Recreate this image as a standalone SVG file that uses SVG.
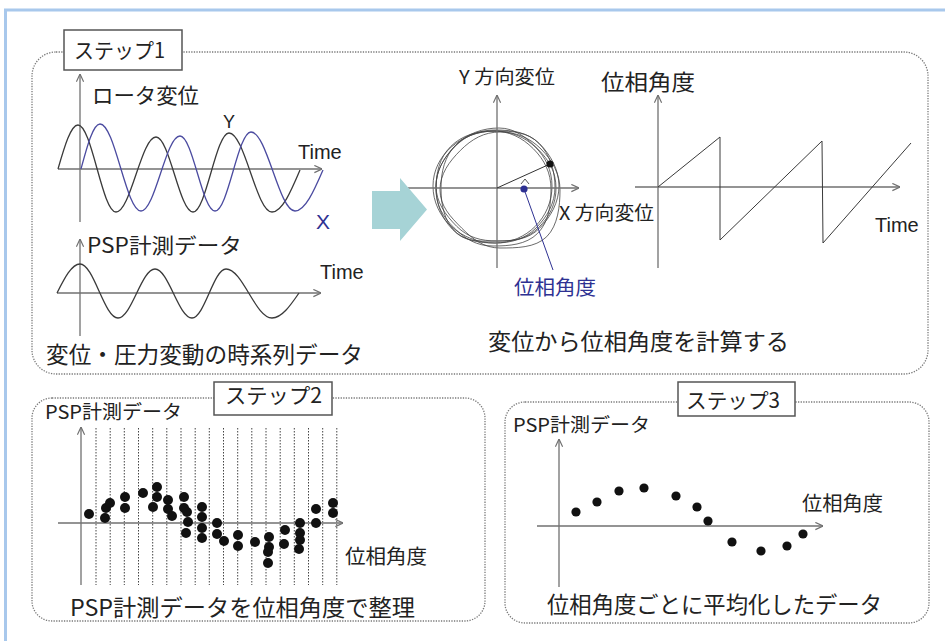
<svg xmlns="http://www.w3.org/2000/svg" width="945" height="641" viewBox="0 0 945 641">
<style>
text{font-family:"Noto Sans CJK JP","Noto Sans",sans-serif;fill:#222;}
.lat{font-family:"Liberation Sans",Arial,sans-serif;}
.blue{fill:#2e3192;}
.box{fill:none;stroke:#7a7a7a;stroke-width:1.3;stroke-dasharray:1.3 1.3;}
.lbl{fill:#fff;stroke:#555;stroke-width:1.5;}
.axa{fill:none;stroke:#707070;stroke-width:1.3;marker-end:url(#ah);}
.wk{fill:none;stroke:#3a3a3a;stroke-width:1.3;}
.wb{fill:none;stroke:#4b4ba0;stroke-width:1.3;}
.lp{fill:none;stroke:#444;stroke-width:0.8;}
.st{fill:none;stroke:#3a3a3a;stroke-width:1;}
.vd{fill:none;stroke:#444;stroke-width:1;stroke-dasharray:1.5 1.5;}
.d{fill:#111;}
</style>
<defs>
<marker id="ah" viewBox="0 0 10 10" refX="9.5" refY="5" markerWidth="9" markerHeight="9" markerUnits="userSpaceOnUse" orient="auto">
<path d="M1,1 L9.5,5 L1,9" fill="none" stroke="#707070" stroke-width="1.3"/>
</marker>
</defs>
<rect width="945" height="641" fill="#fff"/>
<rect id="frame" x="5.5" y="10" width="980" height="680" fill="none" stroke="#a8c8ec" stroke-width="3"/>

<g id="step1">
<rect class="box" x="32" y="52" width="896" height="322" rx="24"/>
<g id="step1-label">
<rect class="lbl" x="64" y="30" width="118" height="40"/>
<text x="74" y="57.5" font-size="21" textLength="91" lengthAdjust="spacingAndGlyphs">ステップ1</text>
</g>
<g id="rotor-displacement">
<line class="axa" x1="80" y1="222" x2="80" y2="74"/>
<line class="axa" x1="58" y1="169" x2="322" y2="169"/>
<path class="wk" d="M58,169 C64.5,146.5 70.8,125 78,125 C91.8,125 102.2,212 116,212 C130.6,212 141.4,137 156,137 C169.5,137 179.5,212 193,212 C206.1,212 215.9,133 229,133 C244.7,133 256.3,212 272,212 C282.1,212 290.9,191.5 300,170"/>
<path class="wb" d="M81,169 C87.2,146 93.1,124 100,124 C114.9,124 126.1,211 141,211 C155.2,211 165.8,136 180,136 C192.7,136 202.3,211 215,211 C228.1,211 237.9,132 251,132 C267,132 279,211 295,211 C305.1,211 313.9,191 323,170"/>
<text x="92" y="102.5" font-size="21" textLength="107" lengthAdjust="spacingAndGlyphs">ロータ変位</text>
<text class="lat" x="223" y="127.5" font-size="18">Y</text>
<text class="lat" x="298" y="159" font-size="20">Time</text>
<text class="lat blue" x="316" y="228.5" font-size="21">X</text>
</g>
<g id="psp-time">
<line class="axa" x1="80" y1="336" x2="80" y2="239"/>
<line class="axa" x1="57" y1="293" x2="321" y2="293"/>
<path class="wk" d="M57,293 C64.5,278.2 71.7,264 80,264 C93.8,264 104.2,318 118,318 C131.5,318 141.5,269 155,269 C168.5,269 178.5,318 192,318 C204.4,318 213.6,269 226,269 C242.7,269 255.3,318 272,318 C281.8,318 290.2,305.8 299,293"/>
<text x="87" y="252.5" font-size="21" textLength="155" lengthAdjust="spacingAndGlyphs">PSP計測データ</text>
<text class="lat" x="320" y="279" font-size="20">Time</text>
</g>
<text x="46" y="363" font-size="22.5" textLength="317" lengthAdjust="spacingAndGlyphs">変位・圧力変動の時系列データ</text>

<g id="orbit">
<path class="lp" d="M555,187 C555,203 547.3,216.7 536,228 S511,243 495,243 S463.9,240.7 452.6,229.4 S436,203 436,187 S443.4,158 454.7,146.7 S479,130 495,130 S527.5,131.9 538.8,143.2 S555,171 555,187Z"/>
<path class="lp" d="M559,186 C559,202 550.7,217.1 539.4,228.4 S513,241 497,241 S468,237.6 456.7,226.3 S436,202 436,186 S444.7,156.3 456,145 S481,131 497,131 S528.1,132.3 539.4,143.6 S559,170 559,186Z"/>
<path class="lp" d="M551,189 C551,205 548.8,222.2 537.5,233.5 S509,246 493,246 S465.4,239.2 454.1,227.9 S436,205 436,189 S439.3,157.9 450.6,146.6 S477,131 493,131 S522,137.4 533.3,148.7 S551,173 551,189Z"/>
<path class="lp" d="M556,188 C556,204 549.9,216.3 538.6,227.6 S515,241 499,241 S466.5,243.1 455.2,231.8 S441,204 441,188 S444.6,156.2 455.9,144.9 S483,128 499,128 S526.6,137.8 537.9,149.1 S556,172 556,188Z"/>
<path class="lp" d="M560,190 C560,206 558,225.4 546.7,236.7 S516,248 500,248 S473.1,239.5 461.8,228.2 S440,206 440,190 S449.1,161.7 460.4,150.4 S484,132 500,132 S529.7,137.7 541,149 S560,174 560,190Z"/>
<path class="lp" d="M552,186 C552,217.5 526.5,243 495,243 C460.8,243 433,217.5 433,186 C433,155.6 460.8,131 495,131 C526.5,131 552,155.6 552,186Z"/>
<line class="axa" x1="497" y1="268" x2="497" y2="95"/>
<line class="axa" x1="408" y1="188" x2="579" y2="188"/>
<line x1="497" y1="188" x2="550" y2="164" stroke="#333" stroke-width="1"/>
<path d="M521,184 L525,179 L529,184" fill="none" stroke="#555" stroke-width="1"/>
<circle class="d" cx="550" cy="164" r="3.6"/>
<circle cx="524" cy="189" r="3.6" fill="#2e3192"/>
<line x1="524" y1="189" x2="553" y2="270" stroke="#2e3192" stroke-width="1"/>
<text x="459" y="84" font-size="19" textLength="96" lengthAdjust="spacingAndGlyphs">Y 方向変位</text>
<text x="559" y="220" font-size="19" textLength="95" lengthAdjust="spacingAndGlyphs">X 方向変位</text>
<text class="blue" x="514" y="295" font-size="20" textLength="82" lengthAdjust="spacingAndGlyphs">位相角度</text>
</g>
<g id="phase-angle">
<line class="axa" x1="658" y1="268" x2="658" y2="95"/>
<line class="axa" x1="635" y1="187" x2="900" y2="187"/>
<path class="st" d="M658,187 L720,137 L720,240 L822,141 L823,243 L911,143"/>
<text x="601" y="90" font-size="22" textLength="94" lengthAdjust="spacingAndGlyphs">位相角度</text>
<text class="lat" x="875" y="232" font-size="20">Time</text>
</g>
<text x="488" y="350" font-size="22.5" textLength="301" lengthAdjust="spacingAndGlyphs">変位から位相角度を計算する</text>
</g>

<g id="step2">
<rect class="box" x="32" y="398" width="453" height="223" rx="20"/>
<g id="step2-label">
<rect class="lbl" x="214" y="382" width="118" height="33"/>
<text x="225" y="403" font-size="21" textLength="97" lengthAdjust="spacingAndGlyphs">ステップ2</text>
</g>
<g class="vd">
<line x1="96" y1="428" x2="96" y2="585"/>
<line x1="110.2" y1="428" x2="110.2" y2="585"/>
<line x1="124.3" y1="428" x2="124.3" y2="585"/>
<line x1="138.5" y1="428" x2="138.5" y2="585"/>
<line x1="152.7" y1="428" x2="152.7" y2="585"/>
<line x1="166.8" y1="428" x2="166.8" y2="585"/>
<line x1="181" y1="428" x2="181" y2="585"/>
<line x1="195.2" y1="428" x2="195.2" y2="585"/>
<line x1="209.3" y1="428" x2="209.3" y2="585"/>
<line x1="223.5" y1="428" x2="223.5" y2="585"/>
<line x1="237.7" y1="428" x2="237.7" y2="585"/>
<line x1="251.8" y1="428" x2="251.8" y2="585"/>
<line x1="266" y1="428" x2="266" y2="585"/>
<line x1="280.2" y1="428" x2="280.2" y2="585"/>
<line x1="294.3" y1="428" x2="294.3" y2="585"/>
<line x1="308.5" y1="428" x2="308.5" y2="585"/>
<line x1="322.7" y1="428" x2="322.7" y2="585"/>
<line x1="336.8" y1="428" x2="336.8" y2="585"/>
</g>
<line class="axa" x1="81" y1="585" x2="81" y2="427"/>
<line class="axa" x1="58" y1="523" x2="343" y2="523"/>
<g class="d">
<circle cx="89" cy="514" r="5"/>
<circle cx="105" cy="518" r="5"/>
<circle cx="106" cy="508" r="5"/>
<circle cx="110" cy="503" r="5"/>
<circle cx="125" cy="497" r="5"/>
<circle cx="125" cy="508" r="5"/>
<circle cx="143" cy="493" r="5"/>
<circle cx="153" cy="507" r="5"/>
<circle cx="157" cy="487" r="5"/>
<circle cx="157" cy="497" r="5"/>
<circle cx="168" cy="500" r="5"/>
<circle cx="168" cy="509" r="5"/>
<circle cx="172" cy="516" r="5"/>
<circle cx="184" cy="497" r="5"/>
<circle cx="184" cy="508" r="5"/>
<circle cx="187" cy="512" r="5"/>
<circle cx="188" cy="522" r="5"/>
<circle cx="186" cy="533" r="5"/>
<circle cx="202" cy="507" r="5"/>
<circle cx="202" cy="517" r="5"/>
<circle cx="202" cy="528" r="5"/>
<circle cx="202" cy="538" r="5"/>
<circle cx="217" cy="523" r="5"/>
<circle cx="217" cy="534" r="5"/>
<circle cx="224" cy="541" r="5"/>
<circle cx="238" cy="535" r="5"/>
<circle cx="238" cy="546" r="5"/>
<circle cx="255" cy="542" r="5"/>
<circle cx="269" cy="537" r="5"/>
<circle cx="269" cy="547" r="5"/>
<circle cx="268" cy="552" r="5"/>
<circle cx="268" cy="563" r="5"/>
<circle cx="285" cy="530" r="5"/>
<circle cx="284" cy="544" r="5"/>
<circle cx="300" cy="523" r="5"/>
<circle cx="300" cy="533" r="5"/>
<circle cx="300" cy="540" r="5"/>
<circle cx="299" cy="549" r="5"/>
<circle cx="316" cy="509" r="5"/>
<circle cx="316" cy="523" r="5"/>
<circle cx="333" cy="503" r="5"/>
<circle cx="333" cy="513" r="5"/>
</g>
<text x="45" y="419" font-size="19" textLength="137" lengthAdjust="spacingAndGlyphs">PSP計測データ</text>
<text x="345" y="564" font-size="20" textLength="82" lengthAdjust="spacingAndGlyphs">位相角度</text>
<text x="70" y="615.5" font-size="22.5" textLength="345" lengthAdjust="spacingAndGlyphs">PSP計測データを位相角度で整理</text>
</g>

<g id="step3">
<rect class="box" x="505" y="402" width="424" height="221" rx="20"/>
<g id="step3-label">
<rect class="lbl" x="678" y="382" width="117" height="34"/>
<text x="686" y="407.5" font-size="21" textLength="94" lengthAdjust="spacingAndGlyphs">ステップ3</text>
</g>
<line class="axa" x1="559" y1="587" x2="559" y2="439"/>
<line class="axa" x1="537" y1="526" x2="823" y2="526"/>
<g class="d">
<circle cx="576" cy="512" r="4.6"/>
<circle cx="597" cy="502" r="4.6"/>
<circle cx="619" cy="491" r="4.6"/>
<circle cx="644" cy="488" r="4.6"/>
<circle cx="676" cy="496" r="4.6"/>
<circle cx="697" cy="507" r="4.6"/>
<circle cx="708" cy="521" r="4.6"/>
<circle cx="732" cy="542" r="4.6"/>
<circle cx="761" cy="551" r="4.6"/>
<circle cx="787" cy="546" r="4.6"/>
<circle cx="803" cy="534" r="4.6"/>
</g>
<text x="513" y="432" font-size="19" textLength="137" lengthAdjust="spacingAndGlyphs">PSP計測データ</text>
<text x="802" y="511" font-size="20" textLength="81" lengthAdjust="spacingAndGlyphs">位相角度</text>
<text x="547" y="613" font-size="22.5" textLength="335" lengthAdjust="spacingAndGlyphs">位相角度ごとに平均化したデータ</text>
</g>

<g id="connectors">
<polygon points="372,191 400,191 400,178 427,209.5 400,241 400,229 372,229" fill="#a6d3d6"/>
</g>
</svg>
